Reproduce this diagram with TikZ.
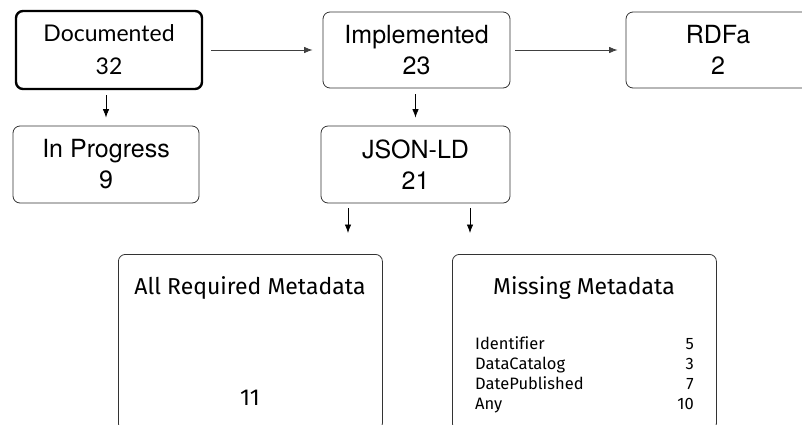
\documentclass[tikz,border=0pt]{standalone}
\usepackage{fontspec}
\setmainfont{TeX Gyre Heros}
\newfontfamily\docfont{Lato}
\newfontfamily\mdfont[Ligatures=NoCommon]{Fira Sans}
\usetikzlibrary{arrows.meta}
\tikzset{
  box/.style={draw=black!80,rounded corners=7pt,line width=0.8pt,align=center,
    font=\fontsize{25}{31}\selectfont,inner sep=0pt},
  arr/.style={-{Latex[length=8.5pt,width=6.5pt]},line width=0.8pt},
  mdtitle/.style={font=\mdfont\fontsize{23}{26}\selectfont,inner sep=0pt},
  mdrow/.style={font=\mdfont\fontsize{16.5}{20}\selectfont,inner sep=0pt}
}
\begin{document}
\begin{tikzpicture}[x=1pt,y=-1pt]
  \useasboundingbox (0,0) rectangle (802,424);
  \clip (0,0) rectangle (802,424);
  \node[box,line width=2.4pt,draw=black,minimum width=186pt,minimum height=78pt,
    font=\docfont\fontsize{23}{33}\selectfont] (doc) at (109,50) {Documented\\32};
  \node[box,minimum width=187pt,minimum height=76pt] (impl) at (416.5,50) {Implemented\\23};
  \node[box,minimum width=184pt,minimum height=76pt] (rdfa) at (718,50) {RDFa\\2};
  \node[box,minimum width=186pt,minimum height=77pt] (prog) at (106,164.5) {In Progress\\9};
  \node[box,minimum width=189pt,minimum height=77pt] (json) at (415.5,164.5) {JSON-LD\\21};
  \node[box,minimum width=264pt,minimum height=176pt,anchor=north west] (req) at (118,254) {};
  \node[box,minimum width=264pt,minimum height=176pt,anchor=north west] (miss) at (452,254) {};

  \node[mdtitle,anchor=base] (reqtitle) at (250,294) {All Required Metadata};
  \node[mdtitle,anchor=base] (reqnum) at (250,405) {11};
  \node[mdtitle,anchor=base] (misstitle) at (584,294) {Missing Metadata};
  \node[mdrow,anchor=base west] (m1) at (475,349) {Identifier};
  \node[mdrow,anchor=base west] (m2) at (475,369) {DataCatalog};
  \node[mdrow,anchor=base west] (m3) at (475,389) {DatePublished};
  \node[mdrow,anchor=base west] (m4) at (475,409) {Any};
  \node[mdrow,anchor=base east] (n1) at (694,349) {5};
  \node[mdrow,anchor=base east] (n2) at (694,369) {3};
  \node[mdrow,anchor=base east] (n3) at (694,389) {7};
  \node[mdrow,anchor=base east] (n4) at (694,409) {10};

  \draw[arr,draw=black!75,shorten <=8pt,shorten >=10pt] (doc) -- (impl);
  \draw[arr,draw=black!75,shorten <=5pt,shorten >=8pt] (impl) -- (rdfa);
  \draw[arr,shorten <=5pt,shorten >=8pt] (doc.south -| prog.north) -- (prog.north);
  \draw[arr,shorten <=6pt,shorten >=8pt] (impl.south -| json.north) -- (json.north);
  \draw[arr,shorten <=5pt,shorten >=21pt] ([xshift=-67.5pt]json.south) -- ([xshift=-67.5pt]json.south |- req.north);
  \draw[arr,shorten <=5pt,shorten >=21pt] ([xshift=54.5pt]json.south) -- ([xshift=54.5pt]json.south |- miss.north);
\end{tikzpicture}
\end{document}
